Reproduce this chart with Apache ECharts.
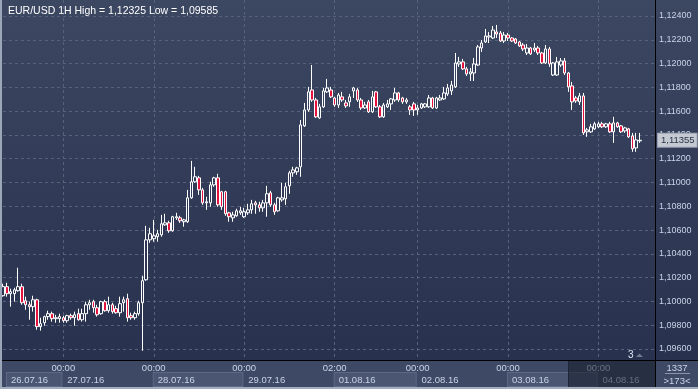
<!DOCTYPE html>
<html><head><meta charset="utf-8">
<script src="https://cdn.jsdelivr.net/npm/echarts@6/dist/echarts.min.js"></script>
<style>html,body{margin:0;padding:0;background:#3e4a65}#c{width:698px;height:389px}</style>
</head><body><div id="c"></div>
<script>
// ---------- data ----------
const symbolName = 'EUR/USD 1H';
const days = ['26.07.16','27.07.16','28.07.16','29.07.16','01.08.16','02.08.16','03.08.16','04.08.16'];
const dayFirstHour = [8,0,0,0,2,0,0,0];
const dayLastHour  = [23,23,23,23,23,23,23,15];
const yTicks = [1.096,1.098,1.100,1.102,1.104,1.106,1.108,1.110,1.112,1.114,1.116,1.118,1.120,1.122,1.124];
const lastPrice = 1.11355;
const barsTotal = '1337';
const barsVisible = '>173<';
const scrollMark = '3';

const openP = [
1.10048,1.10124,1.10065,1.10065,1.10090,1.10124,1.10006,1.09972,1.09956,1.10014,
1.09788,1.09821,1.09872,1.09897,1.09855,1.09855,1.09863,1.09838,1.09880,1.09863,
1.09897,1.09846,1.09897,1.09972,1.09998,1.09947,1.09897,1.09998,1.09922,1.09972,
1.09939,1.09905,1.09989,1.10023,1.09880,1.09863,1.09897,1.09989,1.10182,1.10518,
1.10527,1.10544,1.10560,1.10644,1.10661,1.10594,1.10703,1.10703,1.10670,1.10670,
1.10871,1.11006,1.11039,1.10938,1.10829,1.10829,1.10980,1.11039,1.10922,1.10922,
1.10745,1.10703,1.10720,1.10745,1.10712,1.10745,1.10770,1.10829,1.10812,1.10787,
1.10829,1.10913,1.10812,1.10762,1.10854,1.10863,1.10972,1.11081,1.11090,1.11132,
1.11476,1.11610,1.11778,1.11694,1.11543,1.11636,1.11762,1.11778,1.11711,1.11652,
1.11720,1.11669,1.11678,1.11770,1.11778,1.11694,1.11627,1.11678,1.11594,1.11762,
1.11636,1.11552,1.11636,1.11661,1.11694,1.11753,1.11711,1.11678,1.11636,1.11661,
1.11610,1.11627,1.11636,1.11636,1.11711,1.11627,1.11694,1.11703,1.11745,1.11770,
1.11804,1.11997,1.12014,1.11955,1.11913,1.11921,1.11988,1.12131,1.12182,1.12224,
1.12215,1.12266,1.12257,1.12190,1.12240,1.12215,1.12207,1.12182,1.12156,1.12089,
1.12131,1.12114,1.12131,1.12089,1.12005,1.12123,1.11904,1.11904,1.11988,1.12022,
1.11921,1.11812,1.11711,1.11678,1.11728,1.11426,1.11426,1.11451,1.11468,1.11493,
1.11468,1.11493,1.11426,1.11501,1.11476,1.11434,1.11451,1.11392,1.11291,1.11350];
const closeP = [
1.10124,1.10065,1.10082,1.10098,1.10124,1.09989,1.09972,1.09956,1.10014,1.09788,
1.09813,1.09872,1.09897,1.09855,1.09863,1.09872,1.09838,1.09880,1.09863,1.09888,
1.09846,1.09897,1.09972,1.09989,1.09947,1.09888,1.09998,1.09922,1.09972,1.09914,
1.09905,1.09981,1.10014,1.09863,1.09863,1.09897,1.09989,1.10174,1.10518,1.10569,
1.10552,1.10569,1.10653,1.10661,1.10594,1.10712,1.10712,1.10678,1.10686,1.10871,
1.11006,1.11048,1.10938,1.10829,1.10838,1.10980,1.11039,1.10812,1.10796,1.10737,
1.10712,1.10728,1.10762,1.10762,1.10754,1.10770,1.10821,1.10812,1.10787,1.10829,
1.10905,1.10812,1.10754,1.10871,1.10871,1.10964,1.11081,1.11106,1.11123,1.11484,
1.11610,1.11762,1.11694,1.11552,1.11636,1.11770,1.11795,1.11720,1.11652,1.11736,
1.11694,1.11644,1.11720,1.11795,1.11694,1.11627,1.11652,1.11594,1.11720,1.11636,
1.11552,1.11652,1.11661,1.11703,1.11753,1.11694,1.11678,1.11694,1.11610,1.11610,
1.11627,1.11661,1.11661,1.11711,1.11627,1.11711,1.11711,1.11753,1.11795,1.11820,
1.12005,1.12014,1.11955,1.11913,1.11930,1.11997,1.12140,1.12173,1.12232,1.12232,
1.12282,1.12249,1.12190,1.12240,1.12215,1.12190,1.12173,1.12148,1.12123,1.12131,
1.12081,1.12131,1.12089,1.12005,1.12123,1.11997,1.12005,1.12014,1.12022,1.11921,
1.11804,1.11678,1.11686,1.11728,1.11417,1.11442,1.11468,1.11493,1.11493,1.11468,
1.11493,1.11426,1.11501,1.11468,1.11426,1.11459,1.11384,1.11283,1.11358,1.11355];
const lowP = [
1.10040,1.10040,1.09956,1.09998,1.10082,1.09972,1.09930,1.09846,1.09914,1.09762,
1.09754,1.09796,1.09846,1.09830,1.09821,1.09821,1.09821,1.09821,1.09846,1.09796,
1.09838,1.09830,1.09830,1.09930,1.09905,1.09872,1.09888,1.09914,1.09905,1.09897,
1.09897,1.09872,1.09914,1.09830,1.09846,1.09846,1.09880,1.09585,1.10174,1.10493,
1.10502,1.10502,1.10544,1.10636,1.10577,1.10586,1.10686,1.10661,1.10628,1.10661,
1.10863,1.10997,1.10896,1.10812,1.10770,1.10796,1.10964,1.10796,1.10770,1.10720,
1.10670,1.10670,1.10712,1.10728,1.10703,1.10728,1.10737,1.10737,1.10754,1.10754,
1.10712,1.10796,1.10728,1.10754,1.10838,1.10812,1.10905,1.11048,1.11064,1.11048,
1.11468,1.11594,1.11678,1.11543,1.11535,1.11627,1.11753,1.11711,1.11636,1.11627,
1.11678,1.11627,1.11636,1.11711,1.11678,1.11610,1.11619,1.11585,1.11585,1.11627,
1.11543,1.11543,1.11627,1.11610,1.11678,1.11678,1.11661,1.11661,1.11568,1.11560,
1.11568,1.11619,1.11627,1.11627,1.11619,1.11619,1.11686,1.11694,1.11728,1.11736,
1.11795,1.11972,1.11946,1.11896,1.11854,1.11854,1.11980,1.12098,1.12173,1.12173,
1.12207,1.12215,1.12182,1.12173,1.12190,1.12182,1.12165,1.12140,1.12106,1.12072,
1.12072,1.12098,1.12072,1.11997,1.11997,1.11972,1.11896,1.11896,1.11972,1.11904,
1.11762,1.11610,1.11669,1.11652,1.11400,1.11384,1.11417,1.11442,1.11459,1.11459,
1.11459,1.11417,1.11333,1.11459,1.11417,1.11417,1.11375,1.11258,1.11258,1.11333];
const highP = [
1.10149,1.10157,1.10107,1.10115,1.10283,1.10149,1.10040,1.09998,1.10048,1.10023,
1.09863,1.09880,1.09922,1.09914,1.09888,1.09897,1.09880,1.09888,1.09897,1.09914,
1.09939,1.09939,1.09998,1.10014,1.10014,1.09972,1.10006,1.10014,1.10040,1.09989,
1.09964,1.10040,1.10040,1.10065,1.09905,1.09914,1.10006,1.10216,1.10636,1.10619,
1.10686,1.10602,1.10728,1.10737,1.10678,1.10720,1.10745,1.10720,1.10695,1.10938,
1.11182,1.11132,1.11056,1.10955,1.10880,1.11006,1.11048,1.11073,1.10930,1.10930,
1.10754,1.10754,1.10779,1.10796,1.10787,1.10821,1.10854,1.10846,1.10838,1.10854,
1.10972,1.10930,1.10829,1.10880,1.10997,1.10997,1.11098,1.11132,1.11132,1.11526,
1.11669,1.11804,1.11988,1.11711,1.11661,1.11795,1.11871,1.11804,1.11720,1.11753,
1.11762,1.11694,1.11745,1.11804,1.11795,1.11711,1.11678,1.11694,1.11770,1.11770,
1.11652,1.11669,1.11694,1.11711,1.11795,1.11762,1.11720,1.11711,1.11652,1.11678,
1.11652,1.11669,1.11669,1.11736,1.11720,1.11720,1.11736,1.11804,1.11829,1.11854,
1.12089,1.12056,1.12039,1.11972,1.11963,1.12047,1.12156,1.12198,1.12291,1.12266,
1.12316,1.12325,1.12274,1.12266,1.12257,1.12224,1.12215,1.12190,1.12173,1.12165,
1.12140,1.12173,1.12148,1.12098,1.12156,1.12140,1.12014,1.12056,1.12047,1.12047,
1.11930,1.11846,1.11728,1.11753,1.11753,1.11459,1.11493,1.11510,1.11510,1.11510,
1.11501,1.11510,1.11552,1.11510,1.11484,1.11468,1.11459,1.11417,1.11417,1.11417];

// ---------- build ----------
const categories = [];
const dayStart = [];
days.forEach((d, k) => {
  dayStart.push(categories.length);
  for (let h = dayFirstHour[k]; h <= dayLastHour[k]; h++) categories.push(d + ' ' + String(h).padStart(2, '0') + ':00');
});
const candles = openP.map((o, i) => [o, closeP[i], lowP[i], highP[i]]);
const fmt = v => Number(v).toFixed(5).replace('.', ',');
const hi = Math.max(...highP), lo = Math.min(...lowP);

const FONT = '"Liberation Sans", Arial, sans-serif';
const gridL = 1.9, gridR = 43, W = 698, H = 389;
const pitch = (W - gridR - gridL) / (categories.length - 1);
const labCol = '#c9d4e8';

const rich = { sp: { width: 4 } };
days.forEach((d, k) => {
  const next = k < days.length - 1 ? dayStart[k + 1] : categories.length - 1;
  const w = (next - dayStart[k]) * pitch - (k === 0 ? 4 : 0);
  const filled = k % 2 === 0;
  rich['d' + k] = {
    width: w - 6, height: 12, lineHeight: 13, padding: [1, 0, 0, 4],
    backgroundColor: filled ? '#4a5672' : 'transparent',
    borderColor: filled ? '#5d6984' : 'transparent', borderWidth: 1,
    color: labCol, fontSize: 9.5, fontFamily: FONT, align: 'left'
  };
});

const gridLine = { color: '#56627c', type: [3, 3], width: 1 };

const chart = echarts.init(document.getElementById('c'), null, { renderer: 'canvas' });
chart.setOption({
  animation: false,
  backgroundColor: new echarts.graphic.LinearGradient(0, 0, 0, 1, [
    { offset: 0, color: '#3c4762' }, { offset: 0.925, color: '#28314d' },
    { offset: 0.926, color: '#3e4a65' }, { offset: 1, color: '#3e4a65' }]),
  title: {
    text: symbolName + ' High = ' + fmt(hi) + ' Low = ' + fmt(lo),
    left: 3, top: 1,
    textStyle: { color: '#ffffff', fontSize: 10.5, fontWeight: 'normal', fontFamily: FONT }
  },
  grid: { left: gridL, right: gridR, top: 0, bottom: H - 360, containLabel: false },
  xAxis: [{
    type: 'category', data: categories, boundaryGap: false, position: 'bottom',
    axisLine: { show: true, lineStyle: { color: '#000000', width: 1 } },
    axisTick: { show: false },
    axisLabel: {
      interval: (i) => i > 0 && dayStart.includes(i),
      formatter: v => v.split(' ')[1], color: labCol, fontSize: 9.5, fontFamily: FONT, margin: 3
    },
    splitLine: { show: true, interval: (i) => i > 0 && dayStart.includes(i), lineStyle: gridLine }
  }, {
    type: 'category', data: categories, boundaryGap: false, position: 'bottom', gridIndex: 0,
    axisLine: { show: false }, axisTick: { show: false }, splitLine: { show: false },
    axisLabel: {
      interval: (i) => dayStart.includes(i), align: 'left', margin: 13,
      formatter: (v, i) => { const k = dayStart.indexOf(i); return (k === 0 ? '{sp|}' : '') + '{d' + k + '|' + v.split(' ')[0] + '}'; },
      rich: rich, color: labCol, fontSize: 9.5, fontFamily: FONT
    }
  }],
  yAxis: {
    type: 'value', position: 'right', min: 1.095075, max: 1.125345, scale: true,
    axisLine: { show: true, lineStyle: { color: '#000000', width: 1 } },
    axisTick: { show: false, customValues: yTicks },
    axisLabel: { customValues: yTicks, formatter: fmt, color: labCol, fontSize: 9, fontFamily: FONT, margin: 4 },
    splitLine: { show: true, lineStyle: gridLine }
  },
  series: [{
    type: 'candlestick', data: candles, barWidth: 3, clip: true,
    itemStyle: { color: 'rgba(0,0,0,0)', color0: '#e5123d', borderColor: '#ffffff', borderColor0: '#ffffff', borderWidth: 1 },
    markLine: {
      silent: true, symbol: 'none', animation: false, precision: 5,
      lineStyle: { color: 'rgba(0,0,0,0)', width: 0 },
      data: [{ yAxis: lastPrice }],
      label: { position: 'end', distance: 3, formatter: () => fmt(lastPrice), color: '#2b3347', backgroundColor: '#c5cad2',
        borderColor: '#9aa2b0', borderWidth: 1, padding: [2, 2, 1, 3], fontSize: 9.5, fontFamily: FONT }
    }
  }],
  graphic: [
    { type: 'rect', shape: { x: 568, y: 361, width: 87, height: 26 }, style: { fill: 'rgba(20,25,40,0.55)' }, z: 100 },
    { type: 'line', shape: { x1: 568.5, y1: 361, x2: 568.5, y2: 387 }, style: { stroke: '#1e2537', lineWidth: 1 }, z: 101 },
    { type: 'line', shape: { x1: 0, y1: 360.5, x2: W, y2: 360.5 }, style: { stroke: '#000000', lineWidth: 1 }, z: 102 },
    { type: 'line', shape: { x1: 655.5, y1: 0, x2: 655.5, y2: H }, style: { stroke: '#000000', lineWidth: 1 }, z: 102 },
    { type: 'rect', shape: { x: 0, y: 0, width: 2, height: H }, style: { fill: '#9ba6b9' }, z: 103 },
    { type: 'rect', shape: { x: 0, y: 387, width: W, height: 2 }, style: { fill: '#a3adbf' }, z: 103 },
    { type: 'text', x: 628, y: 350, style: { text: scrollMark, fill: '#dfe6f2', fontSize: 10, fontFamily: FONT }, z: 104 },
    { type: 'polygon', shape: { points: [[636, 357], [639.5, 353.5], [643, 357]] }, style: { fill: '#6f7a90' }, z: 104 },
    { type: 'text', x: 677, y: 363, style: { text: barsTotal, fill: labCol, fontSize: 9.5, fontFamily: FONT, align: 'center' }, z: 104 },
    { type: 'line', shape: { x1: 665, y1: 373.5, x2: 690, y2: 373.5 }, style: { stroke: '#8a95a9', lineWidth: 1 }, z: 104 },
    { type: 'text', x: 677, y: 376, style: { text: barsVisible, fill: labCol, fontSize: 9.5, fontFamily: FONT, align: 'center' }, z: 104 }
  ]
});
</script></body></html>
